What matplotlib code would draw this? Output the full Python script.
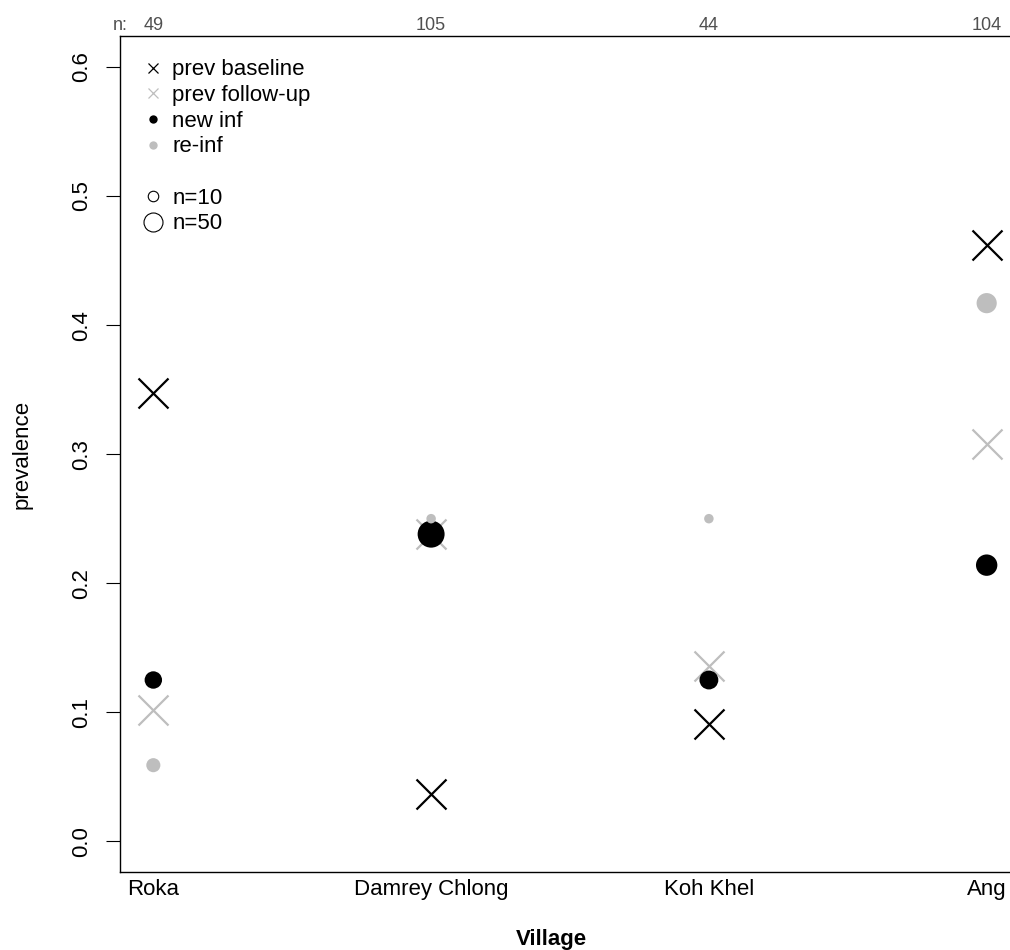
import numpy as np
import matplotlib
matplotlib.use("Agg")
import matplotlib.pyplot as plt
from matplotlib.lines import Line2D
import matplotlib.transforms as mtransforms

plt.rcParams['font.family'] = ['Liberation Sans', 'DejaVu Sans']

# ---- data ----
villages = ["Roka", "Damrey Chlong", "Koh Khel", "Ang"]
n_total = [49, 105, 44, 104]
prev_baseline = [0.347, 0.037, 0.091, 0.462]
prev_followup = [0.102, 0.238, 0.136, 0.308]
new_inf = [0.125, 0.238, 0.125, 0.214]
re_inf = [0.059, 0.250, 0.250, 0.417]
n_new_inf = [32, 101, 40, 56]
n_re_inf = [17, 4, 4, 48]
legend_n = [10, 50]

GRAY = "#BEBEBE"
DPI = 100
PT = 72.0 / DPI  # points per pixel


def diam_px(n):
    return 5.15 + 2.17 * np.sqrt(np.asarray(n, dtype=float))


fig = plt.figure(figsize=(10.1, 9.5), dpi=DPI)
ax = fig.add_axes([120 / 1010, (950 - 872.3) / 950, 900 / 1010, (872.3 - 36) / 950])
ax.set_xlim(0.88, 4.12)
ax.set_ylim(-0.024, 0.624)

x = np.arange(1, len(villages) + 1)

xsize = (30 * PT) ** 2
ax.scatter(x, prev_baseline, marker='x', s=xsize, c='black', linewidths=1.6, zorder=2)
ax.scatter(x, prev_followup, marker='x', s=xsize, c=GRAY, linewidths=1.6, zorder=3)
ax.scatter(x, new_inf, marker='o', s=(diam_px(n_new_inf) * PT) ** 2, c='black',
           linewidths=0, zorder=4)
ax.scatter(x, re_inf, marker='o', s=(diam_px(n_re_inf) * PT) ** 2, c=GRAY,
           linewidths=0, zorder=5)

# axes styling
ax.set_xticks(x)
ax.set_xticklabels(villages, fontsize=16)
ax.tick_params(axis='x', length=0, pad=5)
ax.set_yticks([0.0, 0.1, 0.2, 0.3, 0.4, 0.5, 0.6])
ax.set_yticklabels(["0.0", "0.1", "0.2", "0.3", "0.4", "0.5", "0.6"], fontsize=16)
ax.tick_params(axis='y', length=10, width=0.8, pad=10)
for lbl in ax.get_yticklabels():
    lbl.set_rotation(90)
    lbl.set_va('center')
for sp in ax.spines.values():
    sp.set_linewidth(1.0)
    sp.set_color('black')

ax.set_ylabel("prevalence", fontsize=16, va='center', ha='center')
ax.yaxis.set_label_coords((22 - 120) / 900, 0.5)
ax.set_xlabel("Village", fontsize=16, fontweight='bold', va='center', ha='center')
ax.xaxis.set_label_coords((551 - 120) / 900, -(939.5 - 872.3) / 836.3)

# top n labels
trans = mtransforms.blended_transform_factory(ax.transData, ax.transAxes)
ytop = 1 + 11 / 836.3
ax.text(0.88, ytop, "n:", transform=trans, ha='center', va='center', fontsize=13,
        color='#505050', clip_on=False)
for xi, n in zip(x, n_total):
    ax.text(xi, ytop, str(n), transform=trans, ha='center', va='center', fontsize=13,
            color='#505050', clip_on=False)

# legend
d_open = diam_px(legend_n) - 1.5
handles = [
    Line2D([], [], marker='x', color='black', linestyle='none', markersize=7, mew=0.9),
    Line2D([], [], marker='x', color=GRAY, linestyle='none', markersize=7, mew=0.9),
    Line2D([], [], marker='o', color='black', linestyle='none', markersize=6, mew=0),
    Line2D([], [], marker='o', color=GRAY, linestyle='none', markersize=6, mew=0),
    Line2D([], [], linestyle='none'),
    Line2D([], [], marker='o', mfc='none', mec='black', linestyle='none',
           markersize=d_open[0] * PT, mew=0.8),
    Line2D([], [], marker='o', mfc='none', mec='black', linestyle='none',
           markersize=d_open[1] * PT, mew=0.8),
]
labels = ["prev baseline", "prev follow-up", "new inf", "re-inf", "",
          "n=" + str(legend_n[0]), "n=" + str(legend_n[1])]
ax.legend(handles, labels, loc='upper left', bbox_to_anchor=(0.0243, 0.972),
          frameon=False, fontsize=16, handlelength=1.0, handletextpad=0.36,
          labelspacing=0.21, borderpad=0, borderaxespad=0)

fig.savefig("out.png", dpi=DPI)
